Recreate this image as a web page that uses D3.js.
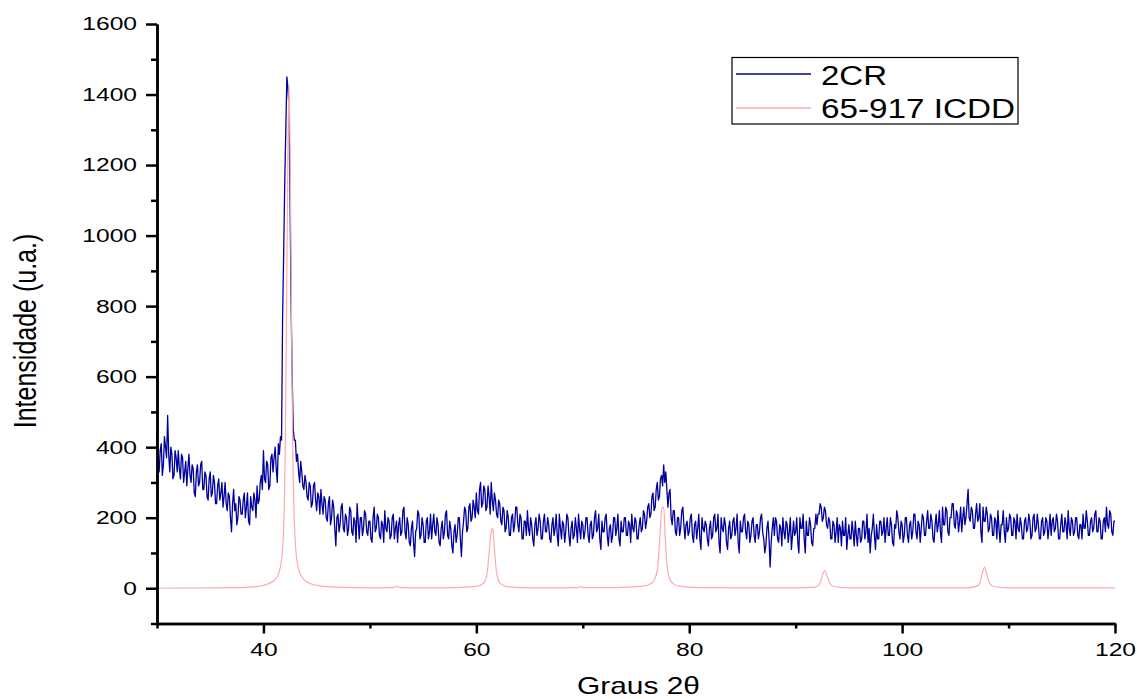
<!DOCTYPE html>
<html>
<head>
<meta charset="utf-8">
<script src="https://cdn.jsdelivr.net/npm/d3@7"></script>
<style>
  body { margin: 0; background: #fff; }
  svg { display: block; }
  text { font-family: Arial, "Liberation Sans", sans-serif; fill: #000; }
</style>
</head>
<body>
<div id="content"></div>
<script>
// 2CR sample: each row covers 2 degrees (from 30 + 2*row), one value every 0.1 degree
const sampleStart = 30;
const rowSpan = 2;
const sampleStep = 0.1;
const sample2CR = [
  [440, 360, 330, 390, 410, 320, 350, 430, 400, 370, 490, 380, 330, 400, 380, 310, 320, 390, 370, 330],
  [390, 340, 310, 380, 370, 300, 330, 360, 290, 340, 380, 320, 300, 350, 340, 270, 260, 330, 350, 290],
  [300, 350, 360, 280, 280, 330, 320, 260, 250, 310, 330, 260, 270, 320, 300, 240, 240, 290, 310, 250],
  [270, 300, 230, 260, 300, 240, 220, 270, 260, 200, 160, 240, 280, 220, 240, 180, 200, 260, 250, 210],
  [210, 250, 270, 200, 230, 270, 190, 180, 260, 230, 220, 270, 250, 200, 290, 240, 250, 300, 320, 280],
  [390, 310, 300, 360, 350, 280, 290, 370, 380, 330, 370, 400, 340, 300, 410, 380, 430, 420, 770, 950],
  [1150, 1300, 1450, 1420, 1360, 1100, 800, 600, 450, 420, 420, 360, 380, 330, 300, 360, 330, 290, 280, 320],
  [300, 260, 250, 300, 290, 230, 240, 290, 300, 250, 220, 270, 260, 210, 280, 240, 210, 260, 250, 200],
  [190, 240, 260, 180, 200, 250, 230, 170, 120, 200, 210, 160, 180, 230, 240, 170, 160, 210, 200, 150],
  [170, 230, 220, 160, 150, 200, 190, 130, 240, 190, 140, 200, 200, 150, 170, 220, 210, 160, 150, 190],
  [190, 140, 130, 200, 230, 160, 170, 210, 200, 150, 140, 190, 180, 130, 220, 170, 160, 200, 190, 140],
  [150, 200, 210, 140, 170, 190, 130, 180, 200, 150, 160, 220, 230, 160, 140, 200, 180, 130, 120, 170],
  [190, 130, 90, 160, 170, 220, 210, 140, 150, 200, 180, 130, 130, 190, 200, 140, 160, 210, 140, 180],
  [210, 160, 150, 200, 180, 130, 120, 170, 190, 140, 160, 210, 220, 150, 140, 190, 170, 120, 100, 160],
  [180, 130, 150, 200, 200, 140, 90, 160, 190, 230, 220, 160, 170, 230, 240, 190, 200, 250, 230, 200],
  [270, 220, 210, 280, 300, 230, 240, 290, 280, 220, 230, 290, 260, 210, 300, 250, 220, 270, 250, 210],
  [200, 250, 240, 190, 180, 230, 220, 160, 170, 220, 200, 150, 150, 200, 210, 160, 180, 230, 230, 180],
  [160, 210, 200, 140, 140, 190, 190, 150, 220, 170, 150, 200, 180, 140, 120, 180, 200, 150, 170, 210],
  [190, 140, 140, 190, 210, 160, 160, 200, 180, 140, 130, 180, 200, 150, 170, 210, 150, 120, 210, 170],
  [140, 190, 180, 130, 160, 210, 200, 150, 120, 170, 190, 140, 150, 200, 170, 130, 210, 170, 140, 190],
  [180, 140, 160, 200, 200, 150, 130, 180, 190, 140, 150, 200, 220, 160, 170, 210, 140, 110, 190, 160],
  [160, 200, 210, 150, 120, 170, 180, 130, 150, 200, 200, 150, 170, 210, 140, 120, 190, 160, 160, 200],
  [200, 150, 150, 190, 180, 130, 210, 170, 160, 200, 190, 140, 140, 180, 200, 160, 170, 220, 210, 170],
  [190, 230, 240, 200, 210, 260, 270, 220, 230, 280, 300, 250, 260, 310, 320, 290, 350, 300, 330, 280],
  [230, 270, 280, 200, 180, 220, 220, 160, 150, 200, 200, 150, 170, 220, 230, 180, 140, 180, 190, 150],
  [160, 200, 210, 150, 130, 180, 190, 140, 170, 210, 140, 110, 200, 170, 160, 190, 180, 140, 120, 170],
  [190, 140, 150, 200, 210, 160, 170, 210, 130, 100, 200, 170, 160, 200, 180, 130, 110, 170, 190, 140],
  [150, 190, 200, 150, 170, 210, 130, 100, 190, 160, 160, 200, 210, 160, 140, 190, 180, 130, 150, 190],
  [200, 150, 130, 180, 180, 140, 160, 200, 210, 160, 140, 100, 120, 170, 190, 140, 60, 130, 170, 200],
  [150, 200, 190, 140, 130, 180, 170, 120, 200, 160, 140, 190, 180, 130, 160, 200, 110, 150, 190, 150],
  [160, 200, 130, 100, 200, 170, 170, 210, 140, 100, 190, 150, 150, 200, 180, 130, 120, 170, 170, 210],
  [180, 210, 210, 240, 230, 190, 200, 230, 220, 180, 170, 200, 190, 140, 140, 190, 180, 130, 160, 200],
  [130, 180, 170, 120, 190, 150, 150, 200, 110, 150, 180, 140, 140, 190, 160, 120, 190, 150, 120, 170],
  [170, 130, 140, 190, 190, 140, 160, 210, 130, 170, 100, 150, 170, 210, 150, 110, 180, 140, 140, 190],
  [190, 150, 160, 200, 130, 170, 200, 150, 150, 200, 180, 130, 120, 180, 170, 220, 200, 160, 140, 190],
  [180, 130, 150, 200, 200, 150, 130, 180, 190, 140, 160, 210, 210, 160, 140, 190, 180, 130, 170, 210],
  [200, 150, 150, 190, 220, 170, 170, 210, 190, 140, 130, 180, 210, 160, 180, 220, 160, 130, 230, 180],
  [180, 230, 220, 160, 150, 200, 200, 240, 240, 180, 170, 220, 210, 160, 190, 230, 160, 200, 230, 180],
  [200, 240, 280, 200, 190, 230, 220, 170, 170, 210, 240, 190, 200, 240, 160, 130, 230, 190, 190, 230],
  [210, 160, 170, 210, 200, 150, 150, 200, 190, 140, 220, 170, 130, 180, 180, 220, 160, 130, 200, 160],
  [170, 210, 200, 150, 150, 200, 190, 140, 210, 170, 160, 200, 180, 140, 140, 190, 200, 160, 170, 210],
  [190, 140, 150, 200, 210, 160, 170, 210, 180, 140, 140, 190, 200, 150, 160, 200, 190, 140, 170, 210],
  [150, 190, 200, 160, 170, 210, 190, 140, 140, 180, 210, 160, 160, 200, 180, 140, 220, 170, 150, 200],
  [190, 150, 160, 200, 200, 150, 140, 180, 180, 140, 210, 170, 170, 220, 190, 150, 150, 190, 200, 160],
  [170, 210, 220, 160, 160, 200, 190, 140, 140, 190, 200, 160, 230, 180, 170, 220, 210, 160, 150, 190],
  [190]
];

// 65-917 ICDD reference pattern
const icddAngle = [30, 38, 39, 40, 40.5, 41, 41.4, 41.7, 41.9, 42.05, 42.2, 42.3, 42.4, 42.5, 42.6, 42.75, 42.9, 43.1, 43.4, 43.8, 44.5, 45.5, 47, 50,
  52.2, 52.5, 52.8, 55, 58, 60, 60.7, 61.0, 61.2, 61.4, 61.55, 61.7, 61.9, 62.2, 62.7, 64, 67, 69.6, 69.8, 70.0, 73, 75.5, 76.5,
  77.0, 77.25, 77.45, 77.6, 77.75, 78.0, 78.4, 79, 81, 85, 90, 91.8, 92.3, 92.6, 92.75, 93.0, 93.2, 93.6, 95, 100, 106,
  107.2, 107.55, 107.75, 107.95, 108.2, 108.6, 110, 115, 120];
const icddIntensity = [0, 2, 4, 8, 13, 22, 40, 80, 170, 400, 900, 1250, 1430, 1250, 900, 400, 190, 90, 45, 25, 12, 6, 3, 1,
  2, 6, 2, 1, 2, 5, 15, 40, 100, 160, 170, 110, 45, 15, 6, 2, 1, 2, 5, 2, 2, 5, 15,
  50, 150, 230, 230, 140, 45, 15, 6, 2, 1, 1, 3, 15, 45, 50, 30, 15, 5, 1, 1, 1,
  8, 45, 60, 40, 15, 5, 1, 1, 1];

const seriesNames = ['2CR', '65-917 ICDD'];
const seriesColors = ['#00009c', '#ffaaaa'];
const xMajorTicks = [40, 60, 80, 100, 120];
const xMinorTicks = [30, 50, 70, 90, 110];
const yMajorTicks = [0, 200, 400, 600, 800, 1000, 1200, 1400, 1600];
const yMinorTicks = [-100, 100, 300, 500, 700, 900, 1100, 1300, 1500];

var width = 1137;
var height = 699;

const svg = d3.select('#content')
              .append('svg')
              .attr('width', width)
              .attr('height', height);

const x = d3.scaleLinear().domain([30, 120]).range([157, 1115]);
const y = d3.scaleLinear().domain([-100, 1600]).range([623.5, 24]);

// stretch text horizontally like the original export
function stretch(sel, k){
    sel.each(function(){
        const w = this.getComputedTextLength();
        d3.select(this).attr('textLength', w * k).attr('lengthAdjust', 'spacingAndGlyphs');
    });
}

const sampleData = sample2CR.flatMap((row, r) =>
    row.map((v, j) => [sampleStart + r * rowSpan + j * sampleStep, v]));
const icddData = icddAngle.map((a, i) => [a, icddIntensity[i]]);

const line = d3.line().x(d => x(d[0])).y(d => y(d[1]));

svg.append('path')
   .datum(sampleData)
   .attr('fill', 'none')
   .attr('stroke', seriesColors[0])
   .attr('stroke-width', 1.3)
   .attr('stroke-linejoin', 'round')
   .attr('d', line);

svg.append('path')
   .datum(icddData)
   .attr('fill', 'none')
   .attr('stroke', seriesColors[1])
   .attr('stroke-width', 1.2)
   .attr('d', d3.line().curve(d3.curveMonotoneX).x(d => x(d[0])).y(d => y(d[1])));

// axes
svg.append('g')
   .attr('transform', 'translate(' + x(30) + ',0)')
   .call(d3.axisLeft(y).tickValues(yMajorTicks).tickSize(11).tickSizeOuter(0).tickPadding(9).tickFormat(d3.format('d')));
svg.append('g')
   .attr('transform', 'translate(' + x(30) + ',0)')
   .call(d3.axisLeft(y).tickValues(yMinorTicks).tickSize(6).tickSizeOuter(0).tickFormat(''));

svg.append('g')
   .attr('transform', 'translate(0,' + y(-100) + ')')
   .call(d3.axisBottom(x).tickValues(xMajorTicks).tickSize(10).tickSizeOuter(0).tickPadding(9).tickFormat(d3.format('d')));
svg.append('g')
   .attr('transform', 'translate(0,' + y(-100) + ')')
   .call(d3.axisBottom(x).tickValues(xMinorTicks).tickSize(5).tickSizeOuter(0).tickFormat(''));

svg.selectAll('.domain').attr('stroke', '#000').attr('stroke-width', 2.5);
svg.selectAll('.tick line').attr('stroke', '#000').attr('stroke-width', 2.5);
svg.selectAll('.tick text').attr('font-size', 18.5).attr('font-family', 'Arial, "Liberation Sans", sans-serif');
stretch(svg.selectAll('.tick text'), 1.33);

// axis titles
svg.append('text')
   .attr('transform', 'translate(36,331) scale(1.25,1) rotate(-90)')
   .attr('text-anchor', 'middle')
   .attr('font-size', 25)
   .text('Intensidade (u.a.)');

svg.append('text')
   .attr('x', 577)
   .attr('y', 694)
   .attr('font-size', 24)
   .attr('textLength', 123)
   .attr('lengthAdjust', 'spacingAndGlyphs')
   .text('Graus 2θ');

// legend
const legend = svg.append('g').attr('id', 'legend');
legend.append('rect')
      .attr('x', 732).attr('y', 57.5)
      .attr('width', 286).attr('height', 66.5)
      .attr('fill', '#fff').attr('stroke', '#000').attr('stroke-width', 1.2);

const legendY = [74, 108];
const legendBase = [85, 118];
const legendWidth = [66, 194];
seriesNames.forEach((name, i) => {
    legend.append('line')
          .attr('x1', 736).attr('x2', 811)
          .attr('y1', legendY[i]).attr('y2', legendY[i])
          .attr('stroke', seriesColors[i])
          .attr('stroke-width', 1.4);
    legend.append('text')
          .attr('x', 821).attr('y', legendBase[i])
          .attr('font-size', 27)
          .attr('textLength', legendWidth[i])
          .attr('lengthAdjust', 'spacingAndGlyphs')
          .text(name);
});
</script>
</body>
</html>
